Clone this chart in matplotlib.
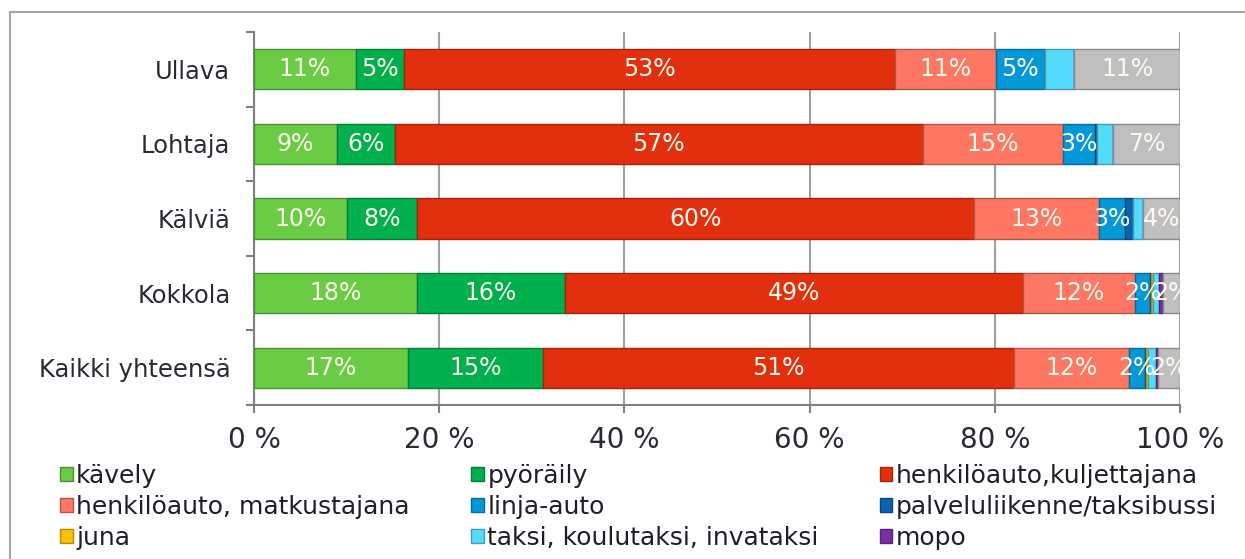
import numpy as np
import matplotlib
matplotlib.use('Agg')
import matplotlib.pyplot as plt
from matplotlib.patches import Patch
from matplotlib.lines import Line2D
from matplotlib import colors as mcolors

# municipalities, top to bottom
areas = ['Ullava', 'Lohtaja', 'Kälviä', 'Kokkola', 'Kaikki yhteensä']

# modal split, percent
kavely = [11.0, 9.0, 10.0, 17.6, 16.6]
pyoraily = [5.2, 6.2, 7.6, 16.0, 14.6]
auto_kulj = [53.0, 57.0, 60.2, 49.4, 50.9]
auto_matk = [10.9, 15.2, 13.4, 12.1, 12.4]
linja_auto = [5.3, 3.4, 2.9, 1.7, 1.7]
palvelu = [0.0, 0.2, 0.8, 0.1, 0.1]
juna = [0.0, 0.0, 0.0, 0.2, 0.2]
taksi = [3.2, 1.8, 1.1, 0.6, 0.9]
mopo = [0.0, 0.0, 0.0, 0.5, 0.2]
muu = [11.4, 7.2, 4.0, 1.8, 2.4]

series = [
    ('kävely', kavely, '#6acb45', True),
    ('pyöräily', pyoraily, '#00b04c', True),
    ('henkilöauto,kuljettajana', auto_kulj, '#e2300e', True),
    ('henkilöauto, matkustajana', auto_matk, '#fd7763', True),
    ('linja-auto', linja_auto, '#0598d8', True),
    ('palveluliikenne/taksibussi', palvelu, '#0a63b0', False),
    ('juna', juna, '#ffc000', False),
    ('taksi, koulutaksi, invataksi', taksi, '#55dcfc', False),
    ('mopo', mopo, '#7a2fa6', False),
    (None, muu, '#bfbfbf', True),
]


def darker(c, f=0.72):
    r, g, b = mcolors.to_rgb(c)
    return (r * f, g * f, b * f)


fig = plt.figure(figsize=(12.45, 5.59), dpi=100)
ax = fig.add_axes([254 / 1245, 1 - 405 / 559, 926 / 1245, 373 / 559])

y = np.arange(len(areas))
left = np.zeros(len(areas))
handles = []
for name, vals, col, show in series:
    vals = np.array(vals)
    ax.barh(y, vals, left=left, height=0.54, color=col,
            edgecolor=darker(col), linewidth=1, zorder=3)
    if show:
        for yi, l, v in zip(y, left, vals):
            if v > 0:
                ax.text(l + v / 2, yi, f'{v:.0f}%', ha='center', va='center',
                        color='#fdf9ec', fontsize=17, zorder=4, clip_on=True)
    if name is not None:
        handles.append(Patch(facecolor=col, edgecolor=darker(col), label=name))
    left += vals

ax.set_xlim(0, 100)
ax.set_ylim(len(areas) - 0.5, -0.5)
ax.set_xticks(np.arange(0, 101, 20))
ax.set_xticklabels([f'{t} %' for t in range(0, 101, 20)])
ax.set_yticks(y)
ax.set_yticklabels(areas)
ax.set_yticks(np.arange(-0.5, len(areas), 1), minor=True)
ax.grid(axis='x', color='#a0a0a0', linewidth=1.5, zorder=0)

for s in ['top', 'right']:
    ax.spines[s].set_visible(False)
for s in ['left', 'bottom']:
    ax.spines[s].set_color('#808080')
    ax.spines[s].set_linewidth(1.5)

ax.tick_params(axis='x', length=6, width=1.5, color='#808080', labelsize=20,
               labelcolor='#2a2a35', pad=9)
ax.tick_params(axis='y', which='major', length=0, labelsize=17.5,
               labelcolor='#2a2a35', pad=17)
ax.tick_params(axis='y', which='minor', length=6, width=1.5, color='#808080')

# legend in Excel's row order, rearranged for column-major filling
order = [0, 3, 6, 1, 4, 7, 2, 5, 8]
fig.legend([handles[i] for i in order], [handles[i].get_label() for i in order],
           ncol=3, loc='upper left', bbox_to_anchor=(60 / 1245, 1 - 464 / 559),
           frameon=False, fontsize=18, handlelength=0.5, handleheight=0.5,
           handletextpad=0.15, columnspacing=2.45, labelspacing=0.27,
           borderaxespad=0, borderpad=0, labelcolor='#1e1e28')

# outer chart frame: top and left edges only are in view
frame = dict(transform=fig.transFigure, color='#a6a6a6', linewidth=1.5)
fig.lines.append(Line2D([10 / 1245, 1.0], [1 - 12 / 559] * 2, **frame))
fig.lines.append(Line2D([10 / 1245] * 2, [0.0, 1 - 12 / 559], **frame))

fig.savefig('out.png', dpi=100)
